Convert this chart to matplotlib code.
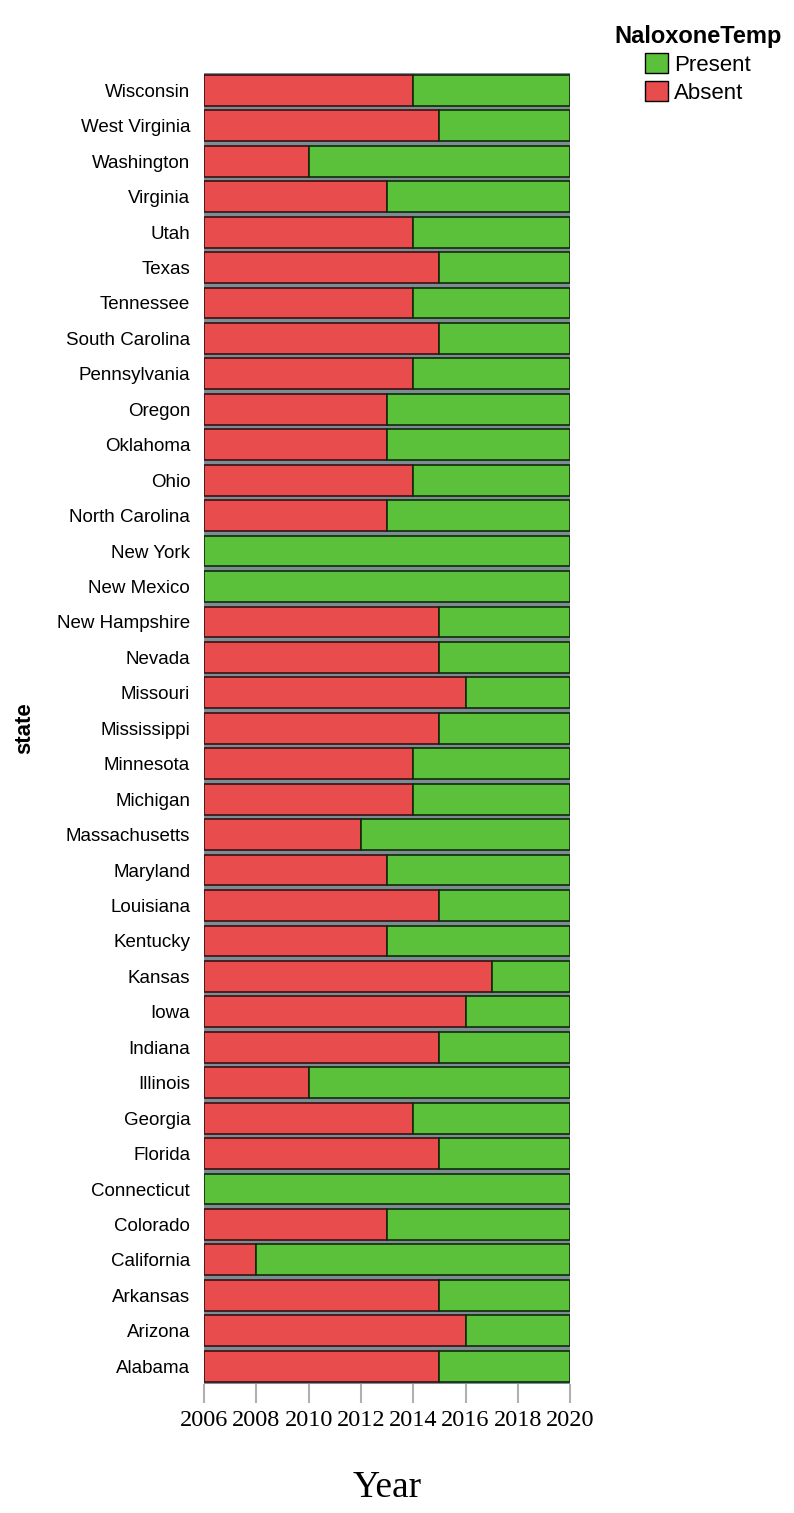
import matplotlib.pyplot as plt
from matplotlib.patches import Patch

# states from bottom (Alabama) to top (Wisconsin), and the year naloxone access began
states = ['Alabama', 'Arizona', 'Arkansas', 'California', 'Colorado', 'Connecticut',
          'Florida', 'Georgia', 'Illinois', 'Indiana', 'Iowa', 'Kansas', 'Kentucky',
          'Louisiana', 'Maryland', 'Massachusetts', 'Michigan', 'Minnesota',
          'Mississippi', 'Missouri', 'Nevada', 'New Hampshire', 'New Mexico',
          'New York', 'North Carolina', 'Ohio', 'Oklahoma', 'Oregon', 'Pennsylvania',
          'South Carolina', 'Tennessee', 'Texas', 'Utah', 'Virginia', 'Washington',
          'West Virginia', 'Wisconsin']
law_year = [2015, 2016, 2015, 2008, 2013, 2006,
            2015, 2014, 2010, 2015, 2016, 2017, 2013,
            2015, 2013, 2012, 2014, 2014,
            2015, 2016, 2015, 2015, 2006,
            2006, 2013, 2014, 2013, 2013, 2014,
            2015, 2014, 2015, 2014, 2013, 2010,
            2015, 2014]
start_year = 2006
end_year = 2020
xticks = list(range(2006, 2021, 2))

red = '#e84c4c'
green = '#5cc13a'

fig = plt.figure(figsize=(7.94, 15.13), dpi=100)
ax = fig.add_axes([0.257, 0.0853, 0.461, 0.8667])

ypos = list(range(len(states)))
absent = [y - start_year for y in law_year]
present = [end_year - y for y in law_year]
ax.barh(ypos, absent, left=start_year, height=0.87, color=red,
        edgecolor='#3a1010', linewidth=1.2)
ax.barh(ypos, present, left=law_year, height=0.87, color=green,
        edgecolor='#102a08', linewidth=1.2)

ax.set_facecolor('#7a8c94')
ax.set_xlim(start_year, end_year)
ax.set_ylim(-0.5, len(states) - 0.5)
ax.set_yticks(ypos)
ax.set_yticklabels(states, fontsize=13.5, family='Liberation Sans')
ax.tick_params(axis='y', length=0, pad=10)
ax.set_xticks(xticks)
ax.set_xticklabels([str(t) for t in xticks], fontsize=17.5, family='Liberation Serif')
ax.tick_params(axis='x', length=14, color='#b0b0b0', width=1.5, pad=5)
for s in ax.spines.values():
    s.set_visible(False)

ax.set_xlabel('Year', fontsize=27, family='Liberation Serif', labelpad=28)
ax.set_ylabel('state', fontsize=16, fontweight='bold', family='Liberation Sans',
              labelpad=16)

handles = [Patch(facecolor=green, edgecolor='black', label='Present'),
           Patch(facecolor=red, edgecolor='black', label='Absent')]
leg = fig.legend(handles=handles, title='NaloxoneTemp', loc='upper right',
                 bbox_to_anchor=(1.01, 0.997), frameon=False,
                 prop={'family': 'Liberation Sans', 'size': 16},
                 handlelength=1.0, handleheight=1.0, handletextpad=0.3,
                 labelspacing=0.25)
leg.get_title().set_fontweight('bold')
leg.get_title().set_fontsize(17)
leg.get_title().set_family('Liberation Sans')

fig.savefig('out.png', dpi=100)
